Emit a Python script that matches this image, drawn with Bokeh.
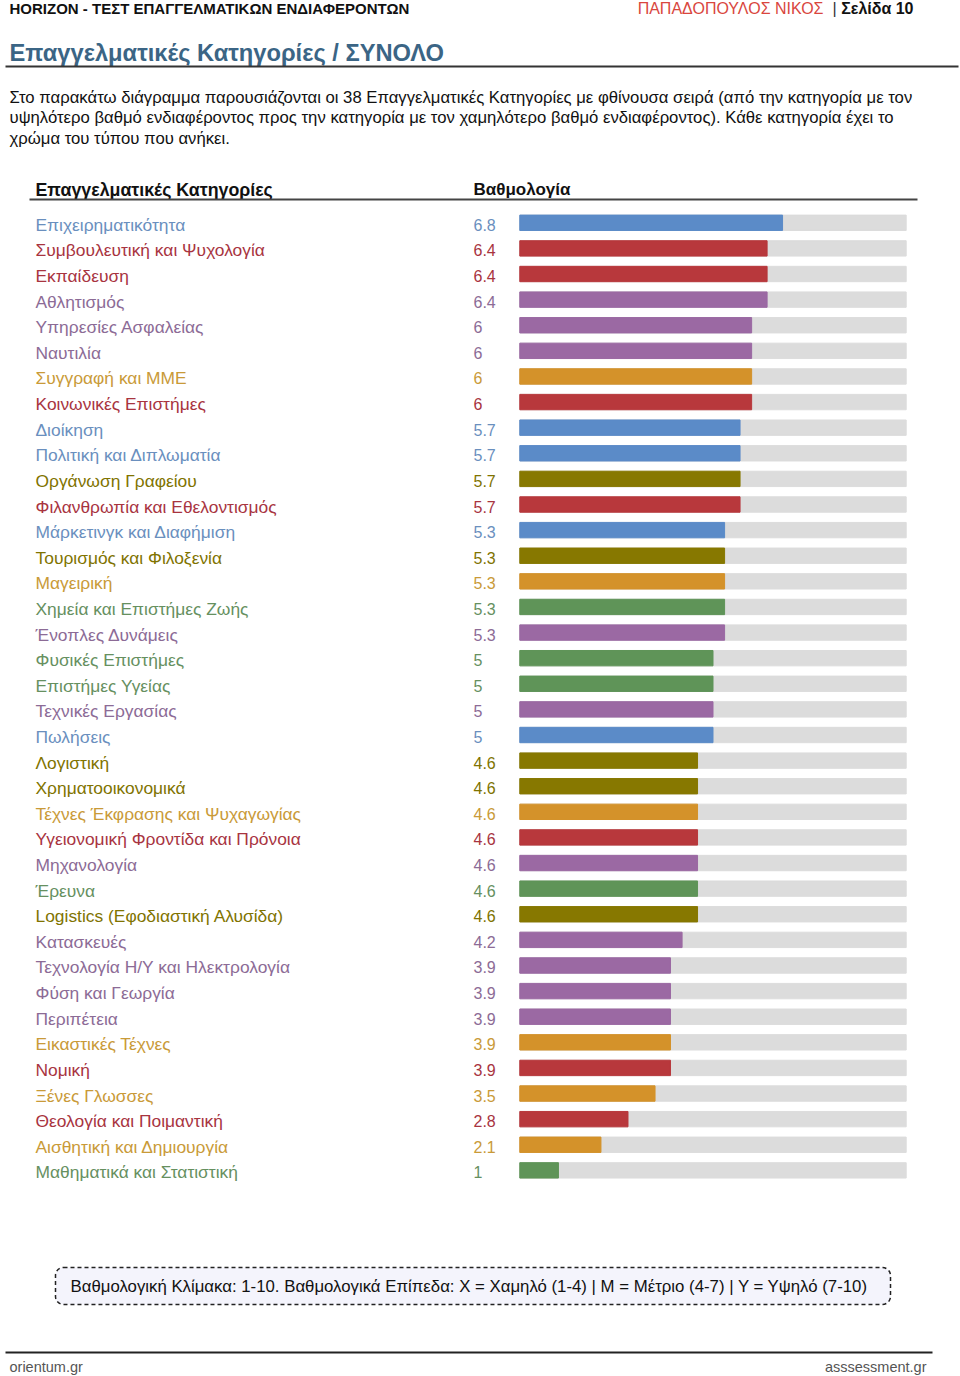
from bokeh.plotting import figure
from bokeh.models import ColumnDataSource, Range1d, BoxAnnotation
from bokeh.core.properties import value
from bokeh.embed import file_html
from bokeh.resources import INLINE

# ---------------- data ----------------
categories = [
    "Επιχειρηματικότητα", "Συμβουλευτική και Ψυχολογία", "Εκπαίδευση", "Αθλητισμός",
    "Υπηρεσίες Ασφαλείας", "Ναυτιλία", "Συγγραφή και ΜΜΕ", "Κοινωνικές Επιστήμες",
    "Διοίκηση", "Πολιτική και Διπλωματία", "Οργάνωση Γραφείου", "Φιλανθρωπία και Εθελοντισμός",
    "Μάρκετινγκ και Διαφήμιση", "Τουρισμός και Φιλοξενία", "Μαγειρική", "Χημεία και Επιστήμες Ζωής",
    "Ένοπλες Δυνάμεις", "Φυσικές Επιστήμες", "Επιστήμες Υγείας", "Τεχνικές Εργασίας",
    "Πωλήσεις", "Λογιστική", "Χρηματοοικονομικά", "Τέχνες Έκφρασης και Ψυχαγωγίας",
    "Υγειονομική Φροντίδα και Πρόνοια", "Μηχανολογία", "Έρευνα", "Logistics (Εφοδιαστική Αλυσίδα)",
    "Κατασκευές", "Τεχνολογία Η/Υ και Ηλεκτρολογία", "Φύση και Γεωργία", "Περιπέτεια",
    "Εικαστικές Τέχνες", "Νομική", "Ξένες Γλωσσες", "Θεολογία και Ποιμαντική",
    "Αισθητική και Δημιουργία", "Μαθηματικά και Στατιστική",
]
scores = [
    6.8, 6.4, 6.4, 6.4,
    6, 6, 6, 6,
    5.7, 5.7, 5.7, 5.7,
    5.3, 5.3, 5.3, 5.3,
    5.3, 5, 5, 5,
    5, 4.6, 4.6, 4.6,
    4.6, 4.6, 4.6, 4.6,
    4.2, 3.9, 3.9, 3.9,
    3.9, 3.9, 3.5, 2.8,
    2.1, 1,
]
types = [
    "blue", "red", "red", "purple",
    "purple", "purple", "orange", "red",
    "blue", "blue", "olive", "red",
    "blue", "olive", "orange", "green",
    "purple", "green", "green", "purple",
    "blue", "olive", "olive", "orange",
    "red", "purple", "green", "olive",
    "purple", "purple", "purple", "purple",
    "orange", "red", "orange", "red",
    "orange", "green",
]
scale_max = 10

# ---------------- styles ----------------
BAR_COLORS = {"blue": "#5b8bc8", "red": "#b8383c", "purple": "#9b69a3",
              "orange": "#d4922a", "olive": "#877800", "green": "#5f9458"}
TEXT_COLORS = {"blue": "#6a8fbe", "red": "#a8343f", "purple": "#8c6b96",
               "orange": "#c99a38", "olive": "#807300", "green": "#66905f"}
FONT = "Liberation Sans"
W, H = 960, 1376

BAR_X0, BAR_X1 = 519.3, 905.7          # page px of score 0 and score max
ROW0_Y, ROW_STEP = 222.3, 25.61        # page px of first row centre, row pitch

p = figure(width=W, height=H, output_backend="svg", toolbar_location=None,
           x_range=Range1d(0, W), y_range=Range1d(H, 0),
           x_axis_type=None, y_axis_type=None, min_border=0,
           outline_line_color=None, background_fill_color="white",
           border_fill_color="white")
p.grid.visible = False

unit = (BAR_X1 - BAR_X0) / scale_max
p.extra_x_ranges = {"score": Range1d(-BAR_X0 / unit, (W - BAR_X0) / unit)}
p.extra_y_ranges = {"row": Range1d((H - ROW0_Y) / ROW_STEP, -ROW0_Y / ROW_STEP)}

n = len(categories)
src = ColumnDataSource(dict(
    row=list(range(n)),
    name=categories,
    score=scores,
    label=[f"{v:g}" for v in scores],
    full=[scale_max] * n,
    bar_color=[BAR_COLORS[t] for t in types],
    text_color=[TEXT_COLORS[t] for t in types],
))

# scale note box (under everything)
p.add_layout(BoxAnnotation(left=55, right=890, top=1267, bottom=1304,
                           fill_color="#f4f4fc", fill_alpha=1,
                           line_color="#222222", line_alpha=1, line_width=1.5,
                           line_dash="4 3", border_radius=8, level="underlay"))

# track and bars
p.hbar(y="row", left=0, right="full", height=0.6, source=src, color="#dcdcdc",
       x_range_name="score", y_range_name="row")
p.hbar(y="row", left=0, right="score", height=0.6, source=src, color="bar_color",
       x_range_name="score", y_range_name="row")

# row labels
p.text(x=35, y="row", text="name", source=src, y_range_name="row",
       text_color="text_color", text_font=value(FONT), text_font_size="17.4px",
       text_baseline="middle", y_offset=2)
p.text(x=473, y="row", text="label", source=src, y_range_name="row",
       text_color="text_color", text_font=value(FONT), text_font_size="16px",
       text_baseline="middle", y_offset=2)


def label(x, y, txt, size="16px", color="#111111", style="normal", align="left"):
    p.text(x=[x], y=[y], text=[txt], text_font=value(FONT), text_font_size=size,
           text_color=color, text_font_style=style, text_align=align,
           text_baseline="middle")


# page header
label(9, 8, "HORIZON - ΤΕΣΤ ΕΠΑΓΓΕΛΜΑΤΙΚΩΝ ΕΝΔΙΑΦΕΡΟΝΤΩΝ", "15px", "#111111", "bold")
label(823, 8, "ΠΑΠΑΔΟΠΟΥΛΟΣ ΝΙΚΟΣ", "16px", "#d9463e", "normal", "right")
label(832, 8, "|", "16px", "#333333")
label(913, 8, "Σελίδα 10", "16px", "#111111", "bold", "right")

# title + rule
label(9, 52, "Επαγγελματικές Κατηγορίες / ΣΥΝΟΛΟ", "23.7px", "#3b6585", "bold")
p.segment(x0=[5], y0=[66], x1=[958], y1=[66], line_color="#333333", line_width=2)

# intro paragraph
label(9, 97, "Στο παρακάτω διάγραμμα παρουσιάζονται οι 38 Επαγγελματικές Κατηγορίες με φθίνουσα σειρά (από την κατηγορία με τον", "16.7px")
label(9, 117, "υψηλότερο βαθμό ενδιαφέροντος προς την κατηγορία με τον χαμηλότερο βαθμό ενδιαφέροντος). Κάθε κατηγορία έχει το", "16.7px")
label(9, 138, "χρώμα του τύπου που ανήκει.", "16.7px")

# table header
label(35, 189, "Επαγγελματικές Κατηγορίες", "17.8px", "#111111", "bold")
label(473, 189, "Βαθμολογία", "17px", "#111111", "bold")
p.segment(x0=[29], y0=[199], x1=[917], y1=[199], line_color="#444444", line_width=2)

# scale note text
label(70, 1286, "Βαθμολογική Κλίμακα: 1-10. Βαθμολογικά Επίπεδα: Χ = Χαμηλό (1-4) | Μ = Μέτριο (4-7) | Υ = Υψηλό (7-10)", "16.8px")

# page footer
p.segment(x0=[5], y0=[1352], x1=[932], y1=[1352], line_color="#222222", line_width=2)
label(9, 1366, "orientum.gr", "14.5px", "#555555")
label(926, 1366, "asssessment.gr", "14.5px", "#555555", "normal", "right")

open("out.html", "w").write(file_html(p, INLINE))
